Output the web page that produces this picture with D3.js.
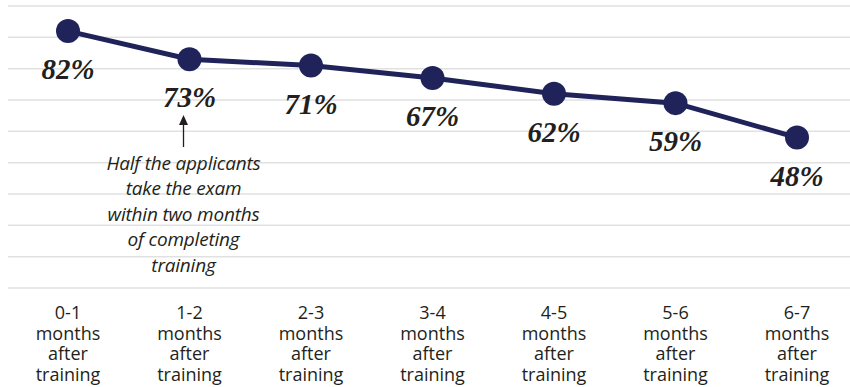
<!DOCTYPE html>
<html>
<head>
<meta charset="utf-8">
<script src="https://cdn.jsdelivr.net/npm/d3@7"></script>
<style>
  body { margin: 0; background: #fff; }
  svg { display: block; }
</style>
</head>
<body>
<svg id="chart" width="850" height="387"></svg>
<script>
// chart data
const periods = ["0-1", "1-2", "2-3", "3-4", "4-5", "5-6", "6-7"];
const passRates = [82, 73, 71, 67, 62, 59, 48];
const gridTicks = [0, 10, 20, 30, 40, 50, 60, 70, 80, 90];
const noteLines = ["Half the applicants", "take the exam", "within two months", "of completing", "training"];

const svg = d3.select("#chart");

const x = d3.scalePoint().domain(periods).range([68, 797]);
const y = d3.scaleLinear().domain([0, 90]).range([288, 6]);

// horizontal grid lines
svg.append("g")
  .selectAll("line")
  .data(gridTicks)
  .enter()
  .append("line")
  .attr("x1", 8)
  .attr("x2", 850)
  .attr("y1", d => y(d))
  .attr("y2", d => y(d))
  .attr("stroke", "#e1e1e1")
  .attr("stroke-width", 1.5);

// x axis labels, one line per word group
const labelLines = p => [p, "months", "after", "training"];
const xLab = svg.append("g")
  .selectAll("text")
  .data(periods)
  .enter()
  .append("text")
  .attr("text-anchor", "middle")
  .attr("font-family", "'Open Sans', sans-serif")
  .attr("font-size", 18)
  .attr("fill", "#231f20");
xLab.selectAll("tspan")
  .data(d => labelLines(d).map(t => ({ t: t, p: d })))
  .enter()
  .append("tspan")
  .attr("x", d => x(d.p))
  .attr("y", (d, i) => 319 + i * 20.5)
  .text(d => d.t);

const pts = periods.map((p, i) => ({ p: p, v: passRates[i] }));

// the line
const line = d3.line().x(d => x(d.p)).y(d => y(d.v));
svg.append("path")
  .datum(pts)
  .attr("d", line)
  .attr("fill", "none")
  .attr("stroke", "#1f2359")
  .attr("stroke-width", 5);

svg.append("g")
  .selectAll("circle")
  .data(pts)
  .enter()
  .append("circle")
  .attr("cx", d => x(d.p))
  .attr("cy", d => y(d.v))
  .attr("r", 12)
  .attr("fill", "#1f2359");

// value labels
svg.append("g")
  .selectAll("text")
  .data(pts)
  .enter()
  .append("text")
  .attr("x", d => x(d.p))
  .attr("y", d => y(d.v) + 48)
  .attr("text-anchor", "middle")
  .attr("font-family", "'Liberation Serif', serif")
  .attr("font-style", "italic")
  .attr("font-weight", "bold")
  .attr("font-size", 29)
  .attr("fill", "#231f20")
  .text(d => d.v + "%");

// annotation under 1-2 months
const ax = x(periods[1]) - 6;
svg.append("line")
  .attr("x1", ax).attr("x2", ax)
  .attr("y1", 124).attr("y2", 147)
  .attr("stroke", "#231f20")
  .attr("stroke-width", 1.3);
svg.append("path")
  .attr("d", `M${ax},115 L${ax - 4.5},125 L${ax + 4.5},125 Z`)
  .attr("fill", "#231f20");

svg.append("g")
  .selectAll("text")
  .data(noteLines)
  .enter()
  .append("text")
  .attr("x", ax)
  .attr("y", (d, i) => 169.5 + i * 25.6)
  .attr("text-anchor", "middle")
  .attr("font-family", "'Open Sans', sans-serif")
  .attr("font-style", "italic")
  .attr("font-size", 19)
  .attr("letter-spacing", -0.2)
  .attr("fill", "#231f20")
  .text(d => d);
</script>
</body>
</html>
